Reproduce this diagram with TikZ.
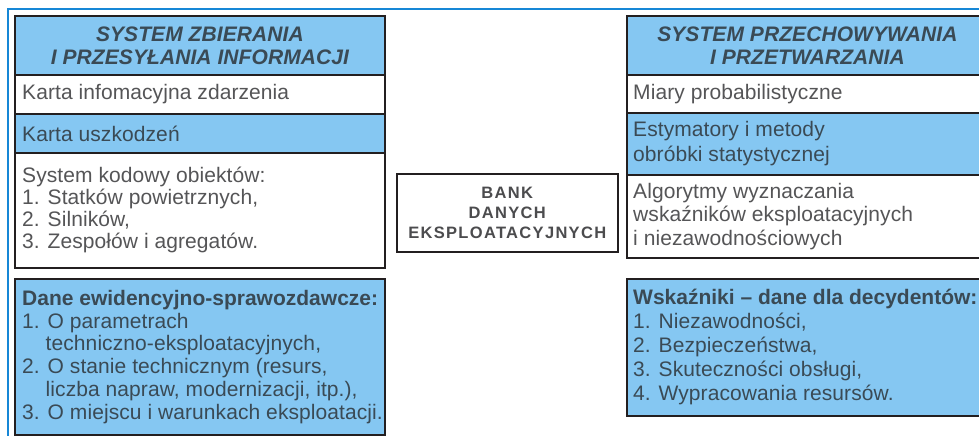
\documentclass[tikz,border=0pt]{standalone}
\usepackage{fontspec}
\setmainfont{Liberation Sans}[LetterSpace=0.4, BoldFeatures={LetterSpace=0}]
\newfontfamily\bankfont[LetterSpace=8]{Liberation Sans}
\definecolor{cblue}{HTML}{85C7F2}
\definecolor{cframe}{HTML}{1787D6}
\definecolor{cline}{HTML}{231F20}
\definecolor{tgray}{HTML}{555557}
\definecolor{tblue}{HTML}{3A4A55}
\tikzset{
  box/.style={draw=cline, line width=1.8pt, inner sep=0pt, anchor=north west},
  bluebox/.style={box, fill=cblue},
  whitebox/.style={box, fill=white},
  txt/.style={anchor=west, align=left, inner sep=0pt, text=tgray,
    font=\fontsize{21}{22}\selectfont},
  txtb/.style={txt, text=tblue},
  ttl/.style={align=center, inner sep=0pt, text=tblue,
    font=\fontsize{21}{23}\selectfont\bfseries\itshape},
  banktxt/.style={align=center, inner sep=0pt, text=tgray!90!black,
    font=\fontsize{16.5}{20}\bankfont\bfseries}
}
\begin{document}
\begin{tikzpicture}[x=1pt,y=-1pt]
\useasboundingbox (0,0) rectangle (979,436);
\clip (0,0) rectangle (979,436);
\fill[white] (0,0) rectangle (979,436);
\draw[cframe, line width=2.4pt] (8,460) -- (8,9) -- (1000,9);

% left column
\node[bluebox, minimum width=370pt, minimum height=59pt] (lt) at (14,15) {};
\node[whitebox, minimum width=370pt, minimum height=39pt] (l1) at (14,74) {};
\node[bluebox, minimum width=370pt, minimum height=39pt] (l2) at (14,113) {};
\node[whitebox, minimum width=370pt, minimum height=115pt] (l3) at (14,152) {};
\node[bluebox, minimum width=370pt, minimum height=156pt] (l4) at (14,278) {};

\node[ttl] (ltt) at (lt.center) {SYSTEM ZBIERANIA\\I PRZESYŁANIA INFORMACJI};
\node[txt] (l1t) at ([xshift=8pt]l1.west) {Karta infomacyjna zdarzenia};
\node[txtb] (l2t) at ([xshift=8pt]l2.west) {Karta uszkodzeń};
\node[txt] (l3t) at ([xshift=8pt]l3.west) {System kodowy obiektów:\\1. Statków powietrznych,\\2. Silników,\\3. Zespołów i agregatów.};
\node[txtb, font=\fontsize{21}{22.7}\selectfont] (l4t) at ([xshift=8pt]l4.west) {\textbf{Dane ewidencyjno-sprawozdawcze:}\\1. O parametrach\\\phantom{1.}\ techniczno-eksploatacyjnych,\\2. O stanie technicznym (resurs,\\\phantom{2.}\ liczba napraw, modernizacji, itp.),\\3. O miejscu i warunkach eksploatacji.};

% bank
\node[whitebox, line width=1.5pt, minimum width=221pt, minimum height=78pt] (bank) at (396,173) {};
\node[banktxt] (bankt) at (bank.center) {BANK\\DANYCH\\EKSPLOATACYJNYCH};

% right column
\node[bluebox, minimum width=361pt, minimum height=59pt] (rt) at (626,15) {};
\node[whitebox, minimum width=361pt, minimum height=38pt] (r1) at (626,74) {};
\node[bluebox, minimum width=361pt, minimum height=62pt] (r2) at (626,112) {};
\node[whitebox, minimum width=361pt, minimum height=83pt] (r3) at (626,174) {};
\node[bluebox, minimum width=361pt, minimum height=137pt] (r4) at (626,278) {};

\node[ttl] (rtt) at (rt.center) {SYSTEM PRZECHOWYWANIA\\I PRZETWARZANIA};
\node[txt] (r1t) at ([xshift=7pt]r1.west) {Miary probabilistyczne};
\node[txtb, font=\fontsize{21}{25}\selectfont] (r2t) at ([xshift=7pt]r2.west) {Estymatory i metody\\obróbki statystycznej};
\node[txt, font=\fontsize{21}{23.5}\selectfont] (r3t) at ([xshift=7pt]r3.west) {Algorytmy wyznaczania\\wskaźników eksploatacyjnych\\i niezawodnościowych};
\node[txtb, font=\fontsize{21}{24}\selectfont] (r4t) at ([xshift=7pt]r4.west) {\textbf{Wskaźniki – dane dla decydentów:}\\1. Niezawodności,\\2. Bezpieczeństwa,\\3. Skuteczności obsługi,\\4. Wypracowania resursów.};
\end{tikzpicture}
\end{document}
